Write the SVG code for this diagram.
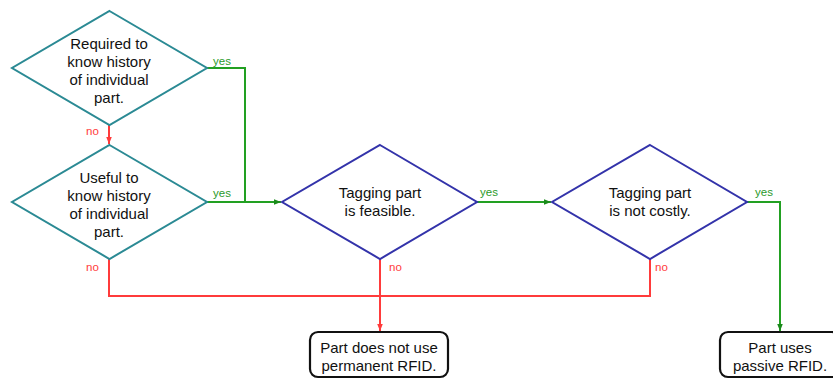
<svg xmlns="http://www.w3.org/2000/svg" width="833" height="379" viewBox="0 0 833 379">
<style>
.t{font-family:"Liberation Sans",Arial,sans-serif;font-size:15px;fill:#111;text-anchor:middle}
.l{font-family:"Liberation Sans",Arial,sans-serif;font-size:11.5px}
.y{fill:#2a9a2a}
.n{fill:#ff3b3b}
.dt{fill:#fff;stroke:#2b8a94;stroke-width:2}
.db{fill:#fff;stroke:#3333aa;stroke-width:2}
.bx{fill:#fff;stroke:#111;stroke-width:2.2}
.g{fill:none;stroke:#22a022;stroke-width:2}
.r{fill:none;stroke:#ff3b3b;stroke-width:2}
</style>
<defs>
<marker id="ag" viewBox="0 0 10 10" refX="10" refY="5" markerWidth="7" markerHeight="7" orient="auto" markerUnits="userSpaceOnUse"><path d="M0,1L10,5L0,9z" fill="#1a8a1a"/></marker>
<marker id="ar" viewBox="0 0 10 10" refX="10" refY="5" markerWidth="7" markerHeight="7" orient="auto" markerUnits="userSpaceOnUse"><path d="M0,1L10,5L0,9z" fill="#ff3b3b"/></marker>
</defs>
<g id="connectors">
<path class="g" d="M207,68H245V202"/>
<path class="g" d="M207,202H281" marker-end="url(#ag)"/>
<path class="g" d="M477,202H551" marker-end="url(#ag)"/>
<path class="g" d="M747,202H780V331" marker-end="url(#ag)"/>
<path class="r" d="M109,125V144" marker-end="url(#ar)"/>
<path class="r" d="M109,259V296H650V259"/>
<path class="r" d="M380,259V331" marker-end="url(#ar)"/>
<text class="l y" x="213" y="65">yes</text>
<text class="l n" x="86" y="135">no</text>
<text class="l y" x="213" y="197">yes</text>
<text class="l n" x="86" y="271">no</text>
<text class="l y" x="480" y="196">yes</text>
<text class="l n" x="389" y="271">no</text>
<text class="l y" x="755" y="196">yes</text>
<text class="l n" x="655" y="271">no</text>
</g>
<g id="d1">
<polygon class="dt" points="109.5,11 207,68 109.5,125 12,68"/>
<text class="t" x="109" y="49">Required to</text>
<text class="t" x="109" y="67">know history</text>
<text class="t" x="109" y="85">of individual</text>
<text class="t" x="109" y="103">part.</text>
</g>
<g id="d2">
<polygon class="dt" points="109.5,145 207,202 109.5,259 12,202"/>
<text class="t" x="109" y="183">Useful to</text>
<text class="t" x="109" y="201">know history</text>
<text class="t" x="109" y="219">of individual</text>
<text class="t" x="109" y="237">part.</text>
</g>
<g id="d3">
<polygon class="db" points="380,145 477,202 380,259 282,202"/>
<text class="t" x="380" y="198">Tagging part</text>
<text class="t" x="380" y="216">is feasible.</text>
</g>
<g id="d4">
<polygon class="db" points="650,145 747,202 650,259 552,202"/>
<text class="t" x="650" y="198">Tagging part</text>
<text class="t" x="650" y="216">is not costly.</text>
</g>
<g id="b1">
<rect class="bx" x="310" y="332" width="138" height="45" rx="8"/>
<text class="t" x="379" y="353">Part does not use</text>
<text class="t" x="379" y="371">permanent RFID.</text>
</g>
<g id="b2">
<rect class="bx" x="720" y="332" width="120" height="45" rx="8"/>
<text class="t" x="780" y="353">Part uses</text>
<text class="t" x="780" y="371">passive RFID.</text>
</g>
</svg>
